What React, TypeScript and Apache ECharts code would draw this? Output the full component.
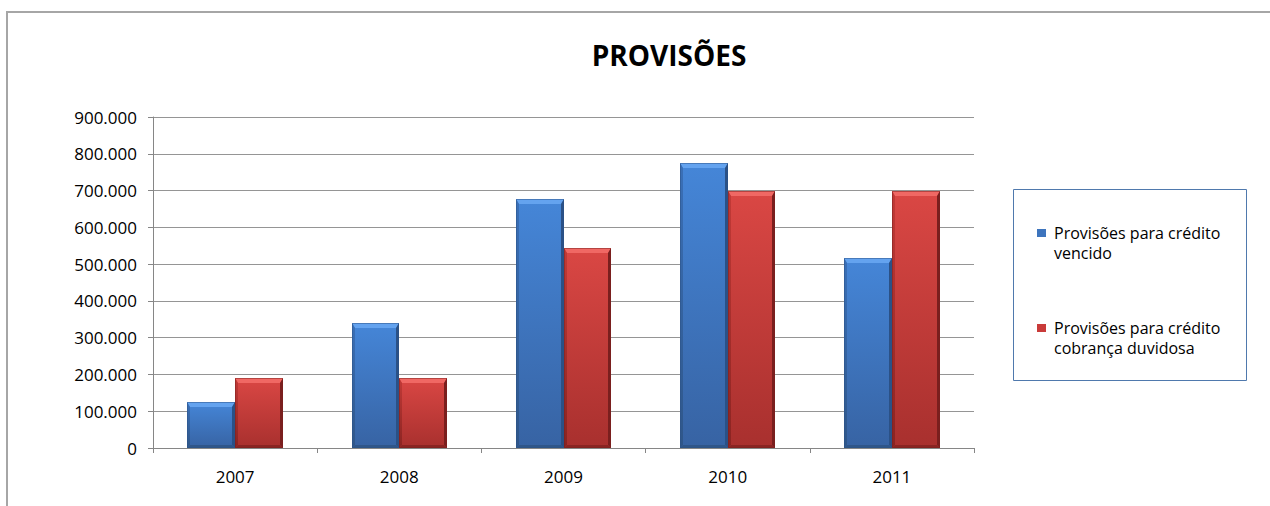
import React, { useEffect, useRef } from "react";
import * as echarts from "echarts";

const years = ["2007", "2008", "2009", "2010", "2011"];
const vencido = [125000, 340000, 678000, 776000, 517000];
const duvidosa = [190000, 190000, 545000, 700000, 700000];
const seriesNames = [
  "Provisões para crédito vencido",
  "Provisões para crédito cobrança duvidosa",
];
const legendLines: Record<string, string[]> = {
  [seriesNames[0]]: ["Provisões para crédito", "vencido"],
  [seriesNames[1]]: ["Provisões para crédito", "cobrança duvidosa"],
};

const FONT = "'Open Sans', 'Noto Sans', sans-serif";

type Palette = {
  top: string;
  bottom: string;
  light: string;
  side: string;
  dark: string;
  base: string;
};

const bluePal: Palette = {
  top: "#4586d8",
  bottom: "#3763a3",
  light: "#64a3ef",
  side: "#3a70b8",
  dark: "#2b5186",
  base: "#2f5689",
};
const redPal: Palette = {
  top: "#da4744",
  bottom: "#a8302e",
  light: "#f06864",
  side: "#c23a37",
  dark: "#7a1f1e",
  base: "#8a2422",
};

function fmt(v: number): string {
  const s = Math.round(v).toString();
  return s.replace(/\B(?=(\d{3})+(?!\d))/g, ".");
}

// Bevelled bar: face gradient plus light top and darker side/bottom edges
function makeRender(offset: number, pal: Palette) {
  return (params: any, api: any) => {
    const idx = api.value(0);
    const val = api.value(1);
    const top = api.coord([idx, val]);
    const base = api.coord([idx, 0]);
    const band = api.size([1, 0])[0];
    const w = band * 0.29;
    const x = Math.round(base[0] + offset * w);
    const x2 = Math.round(base[0] + (offset + 1) * w);
    const y = Math.round(top[1]);
    const yb = Math.round(base[1]);
    const bw = x2 - x;
    const bt = Math.min(5, (yb - y) / 2);
    const bs = 3;
    return {
      type: "group",
      children: [
        {
          type: "rect",
          shape: { x, y, width: bw, height: yb - y },
          style: {
            fill: new echarts.graphic.LinearGradient(0, 0, 0, 1, [
              { offset: 0, color: pal.top },
              { offset: 1, color: pal.bottom },
            ]),
          },
        },
        {
          type: "polygon",
          shape: {
            points: [
              [x, y],
              [x + bw, y],
              [x + bw - bs, y + bt],
              [x + bs, y + bt],
            ],
          },
          style: { fill: pal.light },
        },
        {
          type: "polygon",
          shape: {
            points: [
              [x, y],
              [x + bs, y + bt],
              [x + bs, yb - bs],
              [x, yb],
            ],
          },
          style: {
            fill: new echarts.graphic.LinearGradient(0, 0, 0, 1, [
              { offset: 0, color: pal.side },
              { offset: 1, color: pal.base },
            ]),
          },
        },
        {
          type: "polygon",
          shape: {
            points: [
              [x + bw, y],
              [x + bw, yb],
              [x + bw - bs, yb - bs],
              [x + bw - bs, y + bt],
            ],
          },
          style: { fill: pal.dark },
        },
        {
          type: "polygon",
          shape: {
            points: [
              [x, yb],
              [x + bw, yb],
              [x + bw - bs, yb - bs],
              [x + bs, yb - bs],
            ],
          },
          style: { fill: pal.base },
        },
        {
          type: "rect",
          shape: { x: x + 0.5, y: y + 0.5, width: bw - 1, height: yb - y - 1 },
          style: { fill: "none", stroke: pal.dark, lineWidth: 1, opacity: 0.5 },
        },
      ],
    };
  };
}

export default function App() {
  const ref = useRef<HTMLDivElement>(null);

  useEffect(() => {
    if (!ref.current) return;
    const chart = echarts.init(ref.current, undefined, { renderer: "svg" });
    chart.setOption({
      animation: false,
      backgroundColor: "#ffffff",
      textStyle: { fontFamily: FONT },
      title: {
        text: "PROVISÕES",
        left: 664,
        textAlign: "center",
        top: 36,
        textStyle: {
          fontFamily: FONT,
          fontWeight: "bold",
          fontSize: 28,
          color: "#000000",
        },
      },
      grid: { left: 153, right: 296, top: 117, bottom: 58 },
      legend: {
        orient: "vertical",
        left: 1037,
        top: 203,
        padding: 0,
        itemGap: 35,
        itemWidth: 9,
        itemHeight: 8,
        icon: "rect",
        data: seriesNames,
        selectedMode: false,
        formatter: (name: string) => "\n" + legendLines[name].join("\n"),
        textStyle: {
          fontFamily: FONT,
          fontSize: 16,
          lineHeight: 20,
          color: "#000000",
          padding: [0, 0, 0, 3],
        },
      },
      graphic: [
        {
          type: "polyline",
          shape: {
            points: [
              [7, 506],
              [7, 12],
              [1270, 12],
            ],
          },
          style: { stroke: "#a6a6a6", lineWidth: 2, fill: "none" },
          silent: true,
        },
        {
          type: "rect",
          shape: { x: 1013.5, y: 189.5, width: 233, height: 191 },
          style: { stroke: "#4f79ad", lineWidth: 1, fill: "none" },
          silent: true,
          z: -1,
        },
      ],
      xAxis: {
        type: "category",
        data: years,
        axisLine: { lineStyle: { color: "#868686", width: 1 } },
        axisTick: { show: true, length: 5, lineStyle: { color: "#868686" } },
        axisLabel: {
          fontFamily: FONT,
          fontSize: 17,
          color: "#000000",
          margin: 20,
        },
        splitLine: { show: false },
      },
      yAxis: {
        type: "value",
        min: 0,
        max: 900000,
        interval: 100000,
        axisLine: { show: true, lineStyle: { color: "#868686", width: 1 } },
        axisTick: { show: true, length: 5, lineStyle: { color: "#868686" } },
        axisLabel: {
          fontFamily: FONT,
          fontSize: 17,
          color: "#000000",
          margin: 16,
          formatter: (v: number) => fmt(v),
        },
        splitLine: { show: true, lineStyle: { color: "#959595", width: 1 } },
      },
      series: [
        {
          name: seriesNames[0],
          type: "custom",
          renderItem: makeRender(-1, bluePal),
          itemStyle: { color: "#3d74bd" },
          encode: { x: 0, y: 1 },
          data: vencido.map((v, i) => [i, v]),
        },
        {
          name: seriesNames[1],
          type: "custom",
          renderItem: makeRender(0, redPal),
          itemStyle: { color: "#c93b39" },
          encode: { x: 0, y: 1 },
          data: duvidosa.map((v, i) => [i, v]),
        },
      ],
    });
    return () => chart.dispose();
  }, []);

  return (
    <div
      ref={ref}
      style={{ position: "fixed", left: 0, top: 0, width: 1270, height: 506 }}
    />
  );
}
